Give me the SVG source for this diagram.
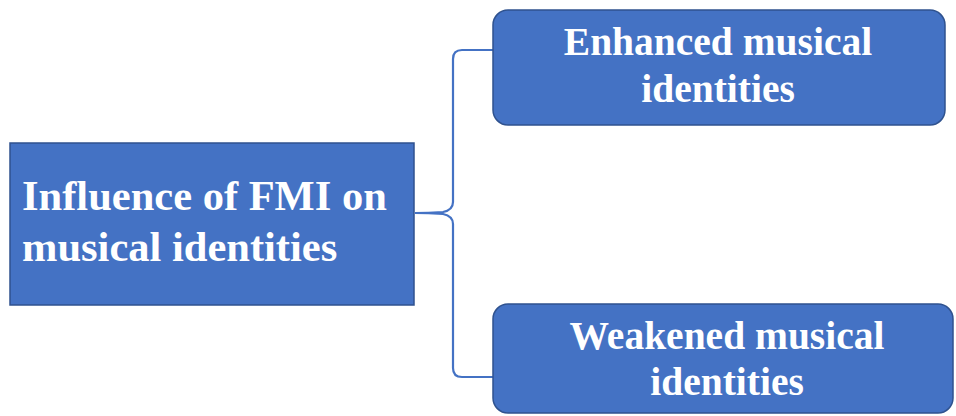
<svg xmlns="http://www.w3.org/2000/svg" width="956" height="416" viewBox="0 0 956 416">
  <style>
    .box { fill: #4472C4; stroke: #2F528F; stroke-width: 1.5; }
    .label { fill: #FFFFFF; font-family: "Liberation Serif", "Times New Roman", serif; font-weight: bold; }
    .link { fill: none; stroke: #4472C4; stroke-width: 2.2; }
  </style>
  <rect width="956" height="416" fill="#FFFFFF"/>

  <!-- bracket connectors -->
  <g id="connectors">
    <path class="link" d="M493 50 H462 Q453 50 453 59 V202 Q453 210 443 212 Q428 213 415 213 Q428 213 443 214 Q453 216 453 224 V368 Q453 377 462 377 H493"/>
  </g>

  <g id="node-influence">
    <rect class="box" x="10" y="143" width="404" height="162"/>
    <text class="label" x="22" y="210" font-size="42.5">Influence of FMI on</text>
    <text class="label" x="22" y="261" font-size="42.5">musical identities</text>
  </g>

  <g id="node-enhanced">
    <rect class="box" x="493" y="10" width="452" height="115" rx="15"/>
    <text class="label" x="718" y="55" font-size="39.5" text-anchor="middle">Enhanced musical</text>
    <text class="label" x="718" y="102" font-size="39.5" text-anchor="middle">identities</text>
  </g>

  <g id="node-weakened">
    <rect class="box" x="493" y="304" width="460" height="109" rx="15"/>
    <text class="label" x="727" y="349" font-size="39.5" text-anchor="middle">Weakened musical</text>
    <text class="label" x="727" y="395" font-size="39.5" text-anchor="middle">identities</text>
  </g>
</svg>
